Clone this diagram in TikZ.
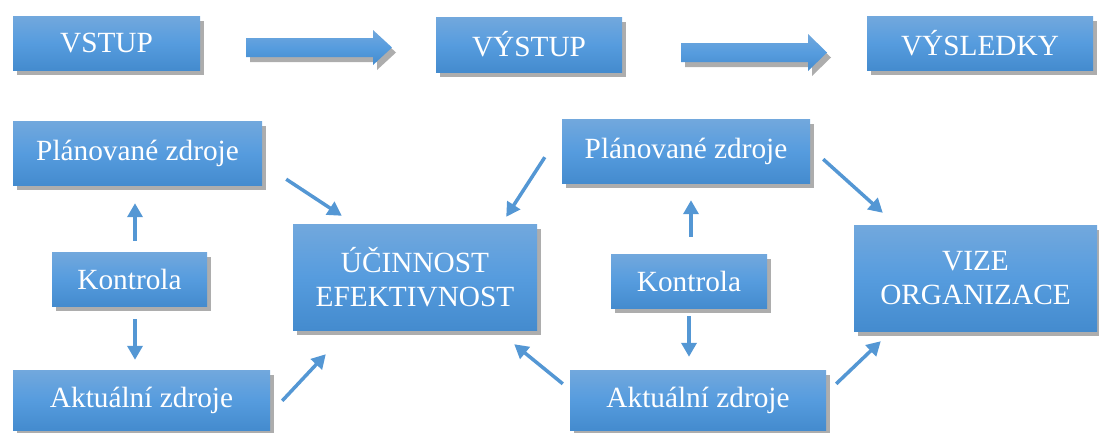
\documentclass[tikz,border=0pt]{standalone}
\usepackage{fontspec}
\setmainfont{Liberation Serif}
\usetikzlibrary{shadows,arrows.meta,calc}
\definecolor{btop}{RGB}{114,168,221}
\definecolor{bmid}{RGB}{86,156,222}
\definecolor{bbot}{RGB}{68,139,206}
\definecolor{arr}{RGB}{84,151,212}
\tikzset{
  box/.style={rectangle, inner sep=0pt, top color=btop, bottom color=bbot, middle color=bmid,
    text=white, align=center, font=\fontsize{29.3}{34}\selectfont,
    drop shadow={shadow xshift=4pt, shadow yshift=-5pt, fill=black, opacity=0.32}},
  sarrow/.style={draw=arr, line width=3.5pt, -{Triangle[length=14pt,width=15pt]}},
  bigarrow/.style={top color=btop, bottom color=bbot, middle color=bmid,
    drop shadow={shadow xshift=4pt, shadow yshift=-5pt, fill=black, opacity=0.32}}
}
\begin{document}
\begin{tikzpicture}[x=1pt,y=-1pt]
\useasboundingbox (0,0) rectangle (1099,432);
% top row
\node[box, minimum width=187pt, minimum height=54pt] (vstup) at (106.5,43) {VSTUP};
\node[box, minimum width=186pt, minimum height=55pt] (vystup) at (529,44.5) {VÝSTUP};
\node[box, minimum width=226pt, minimum height=54pt] (vysl) at (980,43) {VÝSLEDKY};
\path[bigarrow] (246,38) -- (373,38) -- (373,30) -- (392,47.5) -- (373,65) -- (373,57) -- (246,57) -- cycle;
\path[bigarrow] (681,43) -- (808,43) -- (808,34) -- (827,52.5) -- (808,71) -- (808,62) -- (681,62) -- cycle;
% left group
\node[box, minimum width=249pt, minimum height=64pt] (pl) at (137.5,153) {Plánované zdroje};
\node[box, minimum width=155pt, minimum height=54pt] (kl) at (129.5,279) {Kontrola};
\node[box, minimum width=257pt, minimum height=60pt] (al) at (141.5,400) {Aktuální zdroje};
\node[box, minimum width=244pt, minimum height=106pt] (ue) at (415,277) {ÚČINNOST\\EFEKTIVNOST};
% right group
\node[box, minimum width=248pt, minimum height=64pt] (pr) at (686,151) {Plánované zdroje};
\node[box, minimum width=156pt, minimum height=54pt] (kr) at (689,281) {Kontrola};
\node[box, minimum width=256pt, minimum height=60pt] (ar) at (698,400) {Aktuální zdroje};
\node[box, minimum width=243pt, minimum height=106pt] (vz) at (975.5,278) {VIZE\\ORGANIZACE};
% small arrows
\draw[sarrow] ($(kl.north)+(5.5,-11)$) -- ($(pl.south)+(-2.5,18)$);
\draw[sarrow] ($(kl.south)+(5.5,13)$) -- ($(al.north)+(-6.5,-10)$);
\draw[sarrow] ($(pl.south east)+(24,-6)$) -- ($(ue.north west)+(49,-8)$);
\draw[sarrow] ($(al.north east)+(12,31)$) -- ($(ue.south west)+(33,24)$);
\draw[sarrow] ($(pr.south west)+(-17,-26)$) -- ($(ue.north east)+(-31,-7)$);
\draw[sarrow] ($(ar.north west)+(-7,14)$) -- ($(ue.south east)+(-23,14)$);
\draw[sarrow] ($(kr.north)+(2,-17)$) -- ($(pr.south)+(5,17)$);
\draw[sarrow] ($(kr.south)+(0,8)$) -- ($(ar.north)+(-9,-13)$);
\draw[sarrow] ($(pr.south east)+(13,-24)$) -- ($(vz.north west)+(29,-12)$);
\draw[sarrow] ($(ar.north east)+(10,14)$) -- ($(vz.south west)+(27,10)$);
\end{tikzpicture}
\end{document}
